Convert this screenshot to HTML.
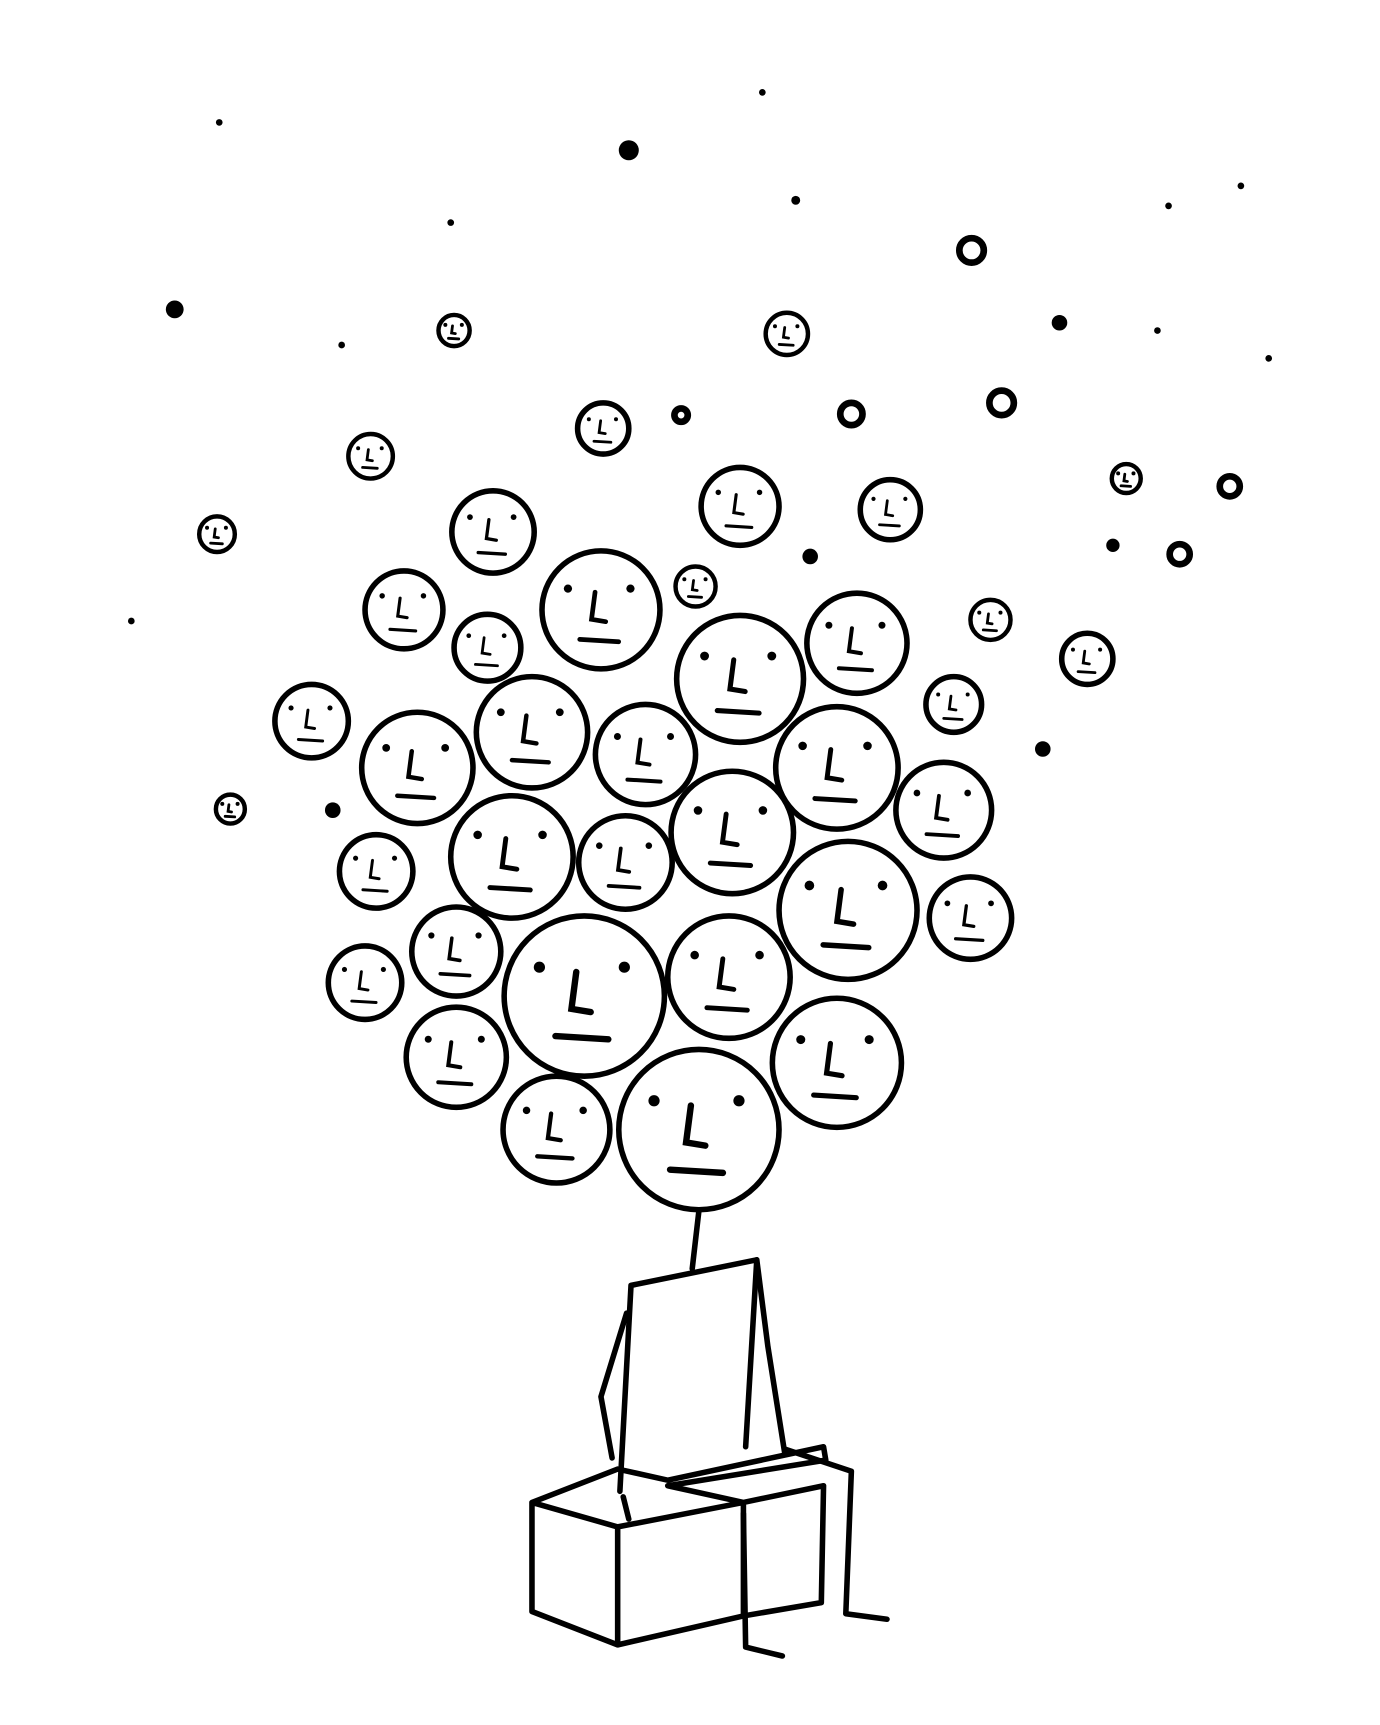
<!DOCTYPE html>
<html><head><meta charset="utf-8"><style>html,body{margin:0;padding:0;background:#fff}svg{display:block}</style></head>
<body>
<svg id="art" width="1380" height="1725" viewBox="0 0 1240 1550" preserveAspectRatio="none" xmlns="http://www.w3.org/2000/svg">
<rect width="1240" height="1550" fill="#fff"/>
<g id="body" fill="none" stroke="#000" stroke-width="5" stroke-linejoin="round" stroke-linecap="round">
<path d="M628 1088 L622 1140"/>
<path d="M557 1340 L567 1155 L680 1132 L670 1300"/>
<path d="M563 1180 L540 1255 L550 1310"/>
<path d="M680 1132 L690 1210 L705 1305"/>
<path d="M478 1350 L555 1320 L600 1330 L740 1300 L742 1312 L600 1335 M478 1350 L555 1372 L555 1478 L478 1448 Z M555 1372 L668 1350 M555 1478 L668 1452 M600 1335 L668 1350 L740 1335 L738 1440 L668 1452 L668 1350"/>
<path d="M705 1302 L765 1322 L760 1450 L797 1455"/>
<path d="M560 1345 L565 1365 M668 1360 L670 1480 L703 1488"/>
</g>
<g id="faces"></g>
<g id="dots"></g>
</svg>
<script>
const faceX=[628,500,410,525,655,752,762,410,328,338,460,562,658,752,848,872,375,478,580,665,770,540,438,363,443,665,800,280,857,890,977,625,542,333,707,408,195,207,1012,1105,1060,900,765,873,612];
const faceY=[1015,1015,950,895,878,955,818,855,883,783,770,775,748,690,728,825,690,658,678,610,578,548,582,548,478,455,458,648,633,557,592,527,385,410,300,297,480,727,430,437,498,362,372,225,373];
const faceR=[72,48,45,72,55,58,62,40,33,33,55,42,55,55,43,37,50,50,45,57,45,53,30,35,37,35,27,33,25,18,23,18,23,20,19,14,16,13,13,9,9,11,10,11,6];
const dotX=[565,157,952,937,728,1000,299,197,685,715,1115,1050,405,307,1040,1140,118];
const dotY=[135,278,290,673,500,490,728,110,83,180,167,185,200,310,297,322,558];
const dotR=[9,8,7,7,7,6,7,3,3,4,3,3,3,3,3,3,3];
const NS='http://www.w3.org/2000/svg';
const fg=document.getElementById('faces');
for(let i=0;i<faceX.length;i++){
  const g=document.createElementNS(NS,'g');
  
  
  const x=faceX[i],y=faceY[i],r=faceR[i];
  const c=document.createElementNS(NS,'circle');
  c.setAttribute('cx',x);c.setAttribute('cy',y);c.setAttribute('r',r);
  c.setAttribute('fill','#fff');c.setAttribute('stroke','#000');
  c.setAttribute('stroke-width',r>20?5:(r>11?4:6));
  g.appendChild(c);
  if(r>=13){
    const s=r/50;
    const p=document.createElementNS(NS,'path');
    p.setAttribute('d',`M${x-5*s} ${y-15*s} L${x-8*s} ${y+8*s} L${x+4*s} ${y+10*s} M${x-18*s} ${y+25*s} L${x+15*s} ${y+27*s}`);
    p.setAttribute('stroke','#000');p.setAttribute('fill','none');
    p.setAttribute('stroke-width',Math.max(2.5,4*s));p.setAttribute('stroke-linecap','round');
    g.appendChild(p);
    for(const dx of [-28,25]){
      const e=document.createElementNS(NS,'circle');
      e.setAttribute('cx',x+dx*s);e.setAttribute('cy',y-18*s);e.setAttribute('r',Math.max(1.8,3.5*s));
      e.setAttribute('fill','#000');
      g.appendChild(e);
    }
  }
  fg.appendChild(g);
}
const dg=document.getElementById('dots');
for(let i=0;i<dotX.length;i++){
  const d=document.createElementNS(NS,'circle');
  
  
  d.setAttribute('cx',dotX[i]);d.setAttribute('cy',dotY[i]);d.setAttribute('r',dotR[i]);
  d.setAttribute('fill','#000');
  dg.appendChild(d);
}
</script>
</body></html>
